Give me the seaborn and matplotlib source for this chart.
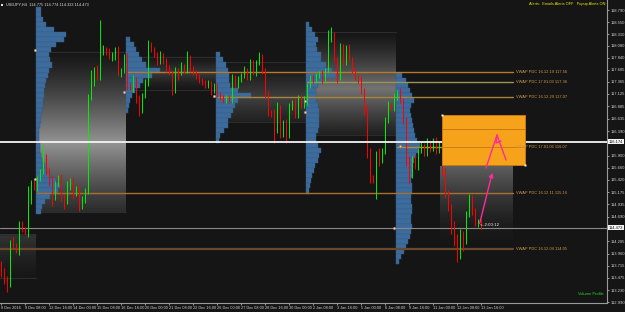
import numpy as np
import pandas as pd
import seaborn as sns
import matplotlib
matplotlib.use("Agg")
import matplotlib.pyplot as plt
from matplotlib.patches import Rectangle

sns.set_theme(style="dark")
plt.rcParams['font.family'] = ['Liberation Sans', 'DejaVu Sans']

# ---------------- data ----------------
first_open = 113.77
close_w0 = [113.60, 113.45, 113.39, 114.17, 114.10, 114.03, 114.56, 114.43, 114.39, 115.00, 115.36, 115.26]
close_w1 = [115.44, 115.58, 115.87, 115.60, 115.40, 115.10, 115.35, 115.45, 115.10, 115.00, 115.30, 115.40,
            115.15, 115.25, 114.95, 115.05, 115.20, 117.05, 117.35, 117.60, 117.45, 117.95, 118.00, 117.95,
            117.85, 117.90, 118.00, 117.55, 117.60, 117.85]
close_w2 = [117.30, 117.25, 117.40, 117.05, 116.80, 117.10, 117.35, 118.10, 118.00, 117.90, 117.78, 117.88,
            117.78, 117.62, 117.55, 117.20, 117.60, 117.55, 117.68, 117.60, 117.85, 117.62, 117.55, 117.48,
            117.40, 117.35, 117.30, 117.35, 117.20, 117.30]
close_w3 = [117.10, 117.05, 117.00, 117.05, 117.00, 117.45, 117.30, 117.42, 117.50, 117.60, 117.45, 117.75,
            117.55, 117.75, 117.85, 117.60, 117.10, 116.75, 116.72, 116.40, 116.85, 116.35, 116.55, 116.30,
            116.90, 116.95, 116.70, 117.05, 116.90, 117.00]
close_w4 = [117.30, 117.45, 117.40, 117.50, 117.55, 117.40, 117.60, 118.20, 118.25, 117.80, 117.45, 118.05,
            117.75, 118.05, 117.80, 117.60, 117.45, 117.40, 117.20, 116.80, 116.00, 115.45, 115.40, 115.95,
            115.80, 116.00, 116.60, 116.90, 116.85, 117.05]
close_w5 = [117.15, 117.00, 116.60, 115.80, 115.50, 115.85, 115.70, 116.00, 116.10, 115.95, 116.15, 116.05,
            116.20, 116.00, 116.15, 115.60, 115.15, 114.90, 114.50, 114.30, 113.95, 114.35, 114.20, 114.75,
            115.05, 114.80, 114.55, 114.60, 114.473]

upw_w0 = [0.05, 0.08, 0.06, 0.05, 0.12, 0.06, 0.05, 0.04, 0.05, 0.30, 0.05, 0.05]
low_w0 = [0.10, 0.10, 0.20, 0.10, 0.05, 0.06, 0.10, 0.05, 0.04, 0.10, 0.05, 0.04]
upw_w1 = [0.05, 0.06, 0.25, 0.06, 0.05, 0.10, 0.05, 0.06, 0.08, 0.05, 0.10, 0.05, 0.08, 0.05, 0.06, 0.05,
          0.05, 0.08, 0.25, 0.06, 0.10, 0.65, 0.10, 0.05, 0.08, 0.06, 0.05, 0.08, 0.05, 0.06]
low_w1 = [0.05, 0.04, 0.05, 0.08, 0.10, 0.20, 0.08, 0.05, 0.10, 0.15, 0.06, 0.08, 0.10, 0.05, 0.15, 0.10,
          0.08, 0.05, 0.05, 0.06, 0.05, 0.05, 0.06, 0.05, 0.04, 0.08, 0.10, 0.06, 0.08, 0.05]
upw_w2 = [0.08, 0.05, 0.10, 0.06, 0.05, 0.05, 0.08, 0.10, 0.05, 0.06, 0.05, 0.10, 0.06, 0.05, 0.08, 0.05,
          0.06, 0.05, 0.08, 0.05, 0.12, 0.05, 0.06, 0.05, 0.05, 0.05, 0.06, 0.05, 0.04, 0.05]
low_w2 = [0.10, 0.05, 0.08, 0.10, 0.12, 0.05, 0.05, 0.06, 0.05, 0.05, 0.08, 0.05, 0.05, 0.06, 0.05, 0.10,
          0.05, 0.15, 0.05, 0.06, 0.05, 0.05, 0.05, 0.06, 0.05, 0.05, 0.06, 0.05, 0.10, 0.05]
upw_w3 = [0.05, 0.06, 0.05, 0.05, 0.04, 0.08, 0.05, 0.06, 0.05, 0.08, 0.05, 0.06, 0.05, 0.05, 0.10, 0.06,
          0.05, 0.08, 0.05, 0.10, 0.12, 0.05, 0.06, 0.08, 0.05, 0.06, 0.10, 0.05, 0.05, 0.08]
low_w3 = [0.04, 0.05, 0.06, 0.05, 0.05, 0.05, 0.04, 0.05, 0.06, 0.05, 0.05, 0.04, 0.05, 0.06, 0.05, 0.08,
          0.05, 0.06, 0.05, 0.25, 0.05, 0.10, 0.08, 0.15, 0.05, 0.10, 0.06, 0.05, 0.06, 0.05]
upw_w4 = [0.05, 0.06, 0.05, 0.05, 0.04, 0.06, 0.05, 0.20, 0.20, 0.10, 0.05, 0.08, 0.06, 0.05, 0.06, 0.05,
          0.04, 0.05, 0.06, 0.05, 0.10, 0.05, 0.06, 0.05, 0.10, 0.05, 0.06, 0.08, 0.05, 0.10]
low_w4 = [0.10, 0.05, 0.06, 0.05, 0.05, 0.05, 0.06, 0.05, 0.05, 0.05, 0.10, 0.05, 0.06, 0.05, 0.05, 0.06,
          0.05, 0.05, 0.08, 0.10, 0.15, 0.10, 0.05, 0.35, 0.10, 0.05, 0.06, 0.05, 0.05, 0.06]
upw_w5 = [0.06, 0.10, 0.05, 0.06, 0.10, 0.05, 0.06, 0.05, 0.08, 0.05, 0.10, 0.05, 0.06, 0.08, 0.05, 0.06,
          0.05, 0.08, 0.05, 0.10, 0.05, 0.10, 0.06, 0.05, 0.10, 0.08, 0.06, 0.05, 0.05]
low_w5 = [0.05, 0.06, 0.08, 0.10, 0.15, 0.05, 0.06, 0.08, 0.05, 0.06, 0.05, 0.08, 0.05, 0.06, 0.05, 0.10,
          0.08, 0.10, 0.15, 0.20, 0.15, 0.10, 0.20, 0.05, 0.06, 0.08, 0.05, 0.06, 0.03]

# weekly volume profiles: start bar, top price level of first bin, volumes (0.1 bins downward)
prof_start = [12, 42, 72, 102, 132]
prof_top = [118.8, 118.2, 117.9, 118.5, 117.5]
prof_vol_1 = [5, 5, 7, 10, 18, 30, 28, 20, 15, 13, 14, 16, 13, 12, 10, 9, 8, 8, 7, 7, 6, 5, 5, 4, 3, 3, 3,
              4, 4, 5, 6, 9, 11, 14, 20, 24, 22, 14, 9, 6, 5]
prof_vol_2 = [4, 8, 10, 13, 16, 20, 34, 26, 17, 14, 9, 6, 4, 3, 2]
prof_vol_3 = [4, 7, 10, 12, 13, 13, 14, 22, 35, 22, 19, 17, 15, 12, 12, 8, 4, 3]
prof_vol_4 = [3, 6, 9, 12, 10, 11, 15, 15, 20, 26, 30, 18, 12, 10, 10, 10, 12, 13, 13, 13, 13, 12, 10, 10,
              12, 15, 13, 12, 9, 8, 6, 5, 4, 3]
prof_vol_5 = [6, 10, 12, 14, 16, 18, 15, 14, 15, 16, 17, 18, 19, 21, 24, 22, 20, 18, 17, 16, 16, 15, 16, 16,
              15, 15, 16, 16, 15, 15, 16, 15, 14, 12, 10, 8, 5, 3]

# value-area boxes (start bar, end bar, high, low, peak brightness, peak position)
va_start = [-1, 12, 42, 72, 102]
va_end = [11.5, 41.5, 71.5, 101.5, 131.5]
va_high = [114.33, 117.96, 117.86, 117.76, 118.35]
va_low = [113.47, 114.78, 117.20, 116.57, 116.31]
va_peak = [0.20, 0.58, 0.22, 0.25, 0.45]
va_center = [0.05, 0.57, 0.5, 0.6, 0.55]

# VWAP levels
vwap_names = ["VWAP PDC 16.12.19", "VWAP PDC 17.01.03", "VWAP PDC 16.12.29",
              "VWAP PDC 17.01.06", "VWAP PDC 16.12.11", "VWAP PDC 16.12.04"]
vwap_price = [117.56, 117.36, 117.07, 116.07, 115.16, 114.05]
vwap_from = [42, 102, 72, 132, 12, -1]
vwap_color = ["#b8782e", "#9a9458", "#a8843c", "#c08a30", "#a8702c", "#6a4a2c"]

hline_white = 116.174
bid_price = 114.473

ytick_vals = [118.790, 118.550, 118.310, 118.080, 117.840, 117.605, 117.365, 117.125, 116.885, 116.635,
              116.390, 115.900, 115.660, 115.420, 115.175, 114.935, 114.690, 114.205, 113.960, 113.715,
              113.475, 113.230, 112.990]
xtick_bars = [0, 8, 16, 24, 32, 40, 48, 56, 64, 72, 80, 88, 96, 104, 112, 120, 128, 136, 144, 152, 160]
xtick_labels = ["8 Dec 2016", "9 Dec 08:00", "12 Dec 16:00", "14 Dec 00:00", "15 Dec 08:00", "16 Dec 16:00",
                "20 Dec 00:00", "21 Dec 08:00", "22 Dec 16:00", "26 Dec 00:00", "27 Dec 08:00",
                "28 Dec 16:00", "30 Dec 00:00", "2 Jan 08:00", "3 Jan 16:00", "5 Jan 00:00",
                "6 Jan 08:00", "9 Jan 16:00", "11 Jan 00:00", "12 Jan 08:00", "13 Jan 16:00"]

# ---------------- build ----------------
closes = np.array(close_w0 + close_w1 + close_w2 + close_w3 + close_w4 + close_w5)
upw = np.array(upw_w0 + upw_w1 + upw_w2 + upw_w3 + upw_w4 + upw_w5)
loww = np.array(low_w0 + low_w1 + low_w2 + low_w3 + low_w4 + low_w5)
opens = np.concatenate([[first_open], closes[:-1]])
df = pd.DataFrame({"bar": np.arange(len(closes)), "open": opens, "close": closes})
df["high"] = np.maximum(df.open, df.close) + upw
df["low"] = np.minimum(df.open, df.close) - loww
df["up"] = df.close >= df.open

BG = "#151515"
W, H = 625, 312
AXW, AXH = 607, 303
fig = plt.figure(figsize=(W / 100, H / 100), dpi=100, facecolor=BG)
ax = fig.add_axes([0, (H - AXH) / H, AXW / W, AXH / H])
ax.set_facecolor(BG)
XMIN, XMAX = -0.5, (AXW - 1.5) / 3
YMAX = 118.99
YMIN = YMAX - AXH / 50.4
ax.set_xlim(XMIN, XMAX)
ax.set_ylim(YMIN, YMAX)


def bx(px):
    return (px - 1.5) / 3.0


def py(pix):
    return YMAX - pix / 50.4


FS = 2.9

# value-area gradient boxes
for s, e, hi, lo, pk, cen in zip(va_start, va_end, va_high, va_low, va_peak, va_center):
    t = np.linspace(0, 1, 200)[:, None]
    b = 0.09 + (pk - 0.09) * np.clip(1 - np.abs(t - cen) / max(cen, 1 - cen), 0, 1) ** 1.3
    img = np.repeat(b, 2, axis=1)
    ax.imshow(img, extent=[s, e, lo, hi], cmap="gray", vmin=0, vmax=1, aspect="auto",
              interpolation="bilinear", zorder=1)
    ax.plot([s, e], [hi, hi], color="#2c2c2c", lw=0.8, zorder=1.2)
    ax.plot([s, e], [lo, lo], color="#2c2c2c", lw=0.8, zorder=1.2)

# gradient below orange box in current week
t = np.linspace(0, 1, 200)[:, None]
b = 0.09 + 0.28 * np.clip(1 - t, 0, 1) ** 1.5
ax.imshow(np.repeat(b, 2, axis=1), extent=[bx(440), bx(513), py(240), py(166)], cmap="gray",
          vmin=0, vmax=1, aspect="auto", interpolation="bilinear", zorder=1)

# volume profiles
profiles = [prof_vol_1, prof_vol_2, prof_vol_3, prof_vol_4, prof_vol_5]
for s, top, vol in zip(prof_start, prof_top, profiles):
    levels = top - 0.1 * np.arange(len(vol))
    ax.barh(levels, np.array(vol) / 3.0, left=s - 0.5, height=0.1, color="#3d6c9c",
            edgecolor="#325a84", linewidth=0.3, zorder=2)

# vwap lines
for price, frm, col in zip(vwap_price, vwap_from, vwap_color):
    ax.plot([frm, bx(513)], [price, price], color=col, lw=1.0 if col != "#6a4a2c" else 1.6, zorder=2.5)

# bid line
ax.axhline(bid_price, color="#8a8a8a", lw=0.8, zorder=2.6)

# candles
colors = np.where(df.up, "#00ee00", "#ff0000")
ax.vlines(df.bar, df.low, df.high, colors=colors, lw=0.7, zorder=3)
heights = (df.close - df.open).where((df.close - df.open).abs() > 0.015, 0.015)
ax.bar(df.bar, heights, bottom=df.open, width=0.62, color=colors, linewidth=0, zorder=3.1)

# white horizontal line
ax.axhline(hline_white, color="#f4f4f4", lw=1.3, zorder=4)

# orange box
ax.add_patch(Rectangle((bx(442), py(165)), bx(525) - bx(442), py(115) - py(165),
                       facecolor="#f7a21b", edgecolor="#d08010", lw=0.6, zorder=5))
ax.plot([bx(442), bx(525)], [py(129), py(129)], color="#c87a10", lw=0.7, zorder=5.1)
ax.plot([bx(442), bx(525)], [vwap_price[3], vwap_price[3]], color="#c8821a", lw=0.7, zorder=5.1)
for cx, cy in [(442, 115), (525, 165)]:
    ax.plot(bx(cx), py(cy), marker="s", ms=1.4, color="#ffffff", mew=0, zorder=5.2)

# pink arrows
ax.annotate("", xy=(bx(493), py(170)), xytext=(bx(479), py(226)),
            arrowprops=dict(arrowstyle="-|>", color="#ff2a9a", lw=1.0, mutation_scale=6), zorder=6)
ax.plot([bx(486), bx(497), bx(506)], [py(168), py(135), py(160)], color="#ff2a9a", lw=1.0, zorder=6)
ax.plot([bx(497), bx(496), bx(501)], [py(135), py(143), py(141)], color="#ff2a9a", lw=1.0, zorder=6)

# vwap labels
for name, price in zip(vwap_names, vwap_price):
    ax.text(bx(516), price, f"{name} {price:.2f}", color="#d09a48", fontsize=FS, va="center",
            ha="left", zorder=5.5)

# timer
ax.text(bx(480), bid_price + 0.02, "<--2:00:12", color="#f0f0f0", fontsize=3.2, va="bottom", ha="left",
        zorder=6)

# pivot dots
dots = [(35, 50), (35, 179), (124, 92), (214, 96), (305, 101), (305, 112), (394, 228), (400, 146)]
for dx, dy in dots:
    ax.plot(bx(dx), py(dy), marker="o", ms=2.0, color="#f0c8a0", mec="#606060", mew=0.3, zorder=6)

# header texts
ax.plot(bx(2.5), py(4.5), marker="s", ms=1.6, color="#e0e0e0", mew=0, zorder=6)
ax.text(bx(6), py(4.5), "USDJPY,H4  114.775 114.774 114.323 114.473", color="#e0e0e0", fontsize=2.8,
        va="center", ha="left")
ax.text(bx(605), py(4.5), "Alerts:  Emails Alerts OFF   Popup Alerts ON", color="#f0e800", fontsize=2.8,
        va="center", ha="right")
ax.text(bx(604), py(294), "Volume Profile", color="#22dd22", fontsize=2.9, va="center", ha="right")

# axes styling
for sp in ["top", "left"]:
    ax.spines[sp].set_visible(False)
for sp in ["right", "bottom"]:
    ax.spines[sp].set_visible(True)
    ax.spines[sp].set_color("#9a9a9a")
    ax.spines[sp].set_linewidth(0.8)
ax.yaxis.tick_right()
ax.set_yticks(ytick_vals)
ax.set_yticklabels([f"{v:.3f}" for v in ytick_vals])
ax.set_xticks(xtick_bars)
ax.set_xticklabels(xtick_labels, ha="left")
ax.tick_params(axis="y", colors="#d0d0d0", labelsize=3.0, length=1.5, width=0.5, pad=1.0, right=True, left=False)
ax.tick_params(axis="x", colors="#d0d0d0", labelsize=2.8, length=1.5, width=0.5, pad=1.0, bottom=True)
ax.grid(False)

# price boxes on right axis
for val in [hline_white, bid_price]:
    ax.text(1.003, val, f"{val:.3f}", transform=ax.get_yaxis_transform(), color="#111111", fontsize=3.0,
            va="center", ha="left", bbox=dict(boxstyle="square,pad=0.12", fc="#f4f4f4", ec="none"),
            zorder=7, clip_on=False)

fig.savefig("out.png", dpi=100, facecolor=BG)
